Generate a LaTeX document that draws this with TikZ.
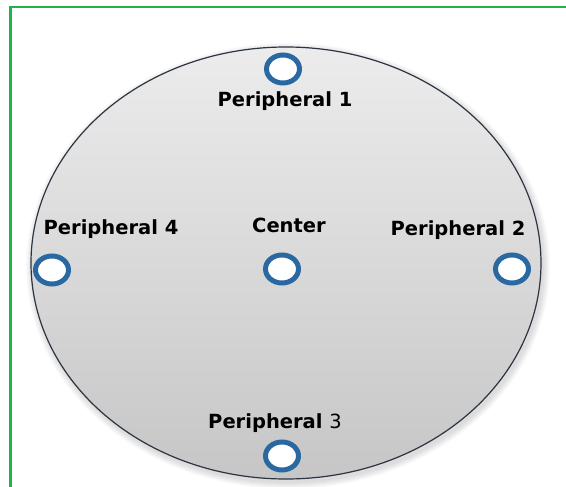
\documentclass[tikz,border=0pt]{standalone}
\usepackage{fontspec}
\setmainfont{DejaVu Sans}
\usetikzlibrary{shapes.geometric}
\definecolor{ringblue}{HTML}{2A68A2}
\definecolor{framegreen}{HTML}{22B14C}
\definecolor{rimcol}{HTML}{2B3440}
\definecolor{topgray}{HTML}{ECECEC}
\definecolor{botgray}{HTML}{C6C6C6}
\begin{document}
\begin{tikzpicture}[x=1pt,y=-1pt,
  hub/.style={ellipse, draw=ringblue, line width=5pt, fill=white,
    minimum width=33pt, minimum height=28pt, inner sep=0pt},
  lbl/.style={anchor=base, inner sep=0pt, font=\bfseries\fontsize{19.5}{22}\selectfont, text=black}]
\useasboundingbox (0,0) rectangle (566,487);
% frame
\coordinate (fbl) at (10.5,487);
\coordinate (ftl) at (10.5,7);
\coordinate (ftr) at (566,7);
\draw[framegreen, line width=2.5pt] (fbl) -- (ftl) -- (ftr);
% soft shadow
\foreach \i in {1,...,7}
  \fill[black, opacity=0.02] (288,266) ellipse [x radius={255pt+\i pt}, y radius={216pt+\i pt}];
% disc
\shade[top color=topgray, bottom color=botgray, draw=rimcol, line width=1.2pt]
  (286,263) ellipse [x radius=255pt, y radius=216pt];
% hubs
\node[hub] (p1) at (283,69) {};
\node[hub] (c)  at (282,269) {};
\node[hub] (p4) at (52,270) {};
\node[hub] (p2) at (512,269) {};
\node[hub] (p3) at (282,456) {};
% labels
\node[lbl] (l1) at (285,107) {Peripheral 1};
\node[lbl] (l4) at (111,234) {Peripheral 4};
\node[lbl] (lc) at (289,233) {Center};
\node[lbl] (l2) at (458,236) {Peripheral 2};
\node[lbl] (l3) at (275,428) {Peripheral {\mdseries 3}};
\end{tikzpicture}
\end{document}
